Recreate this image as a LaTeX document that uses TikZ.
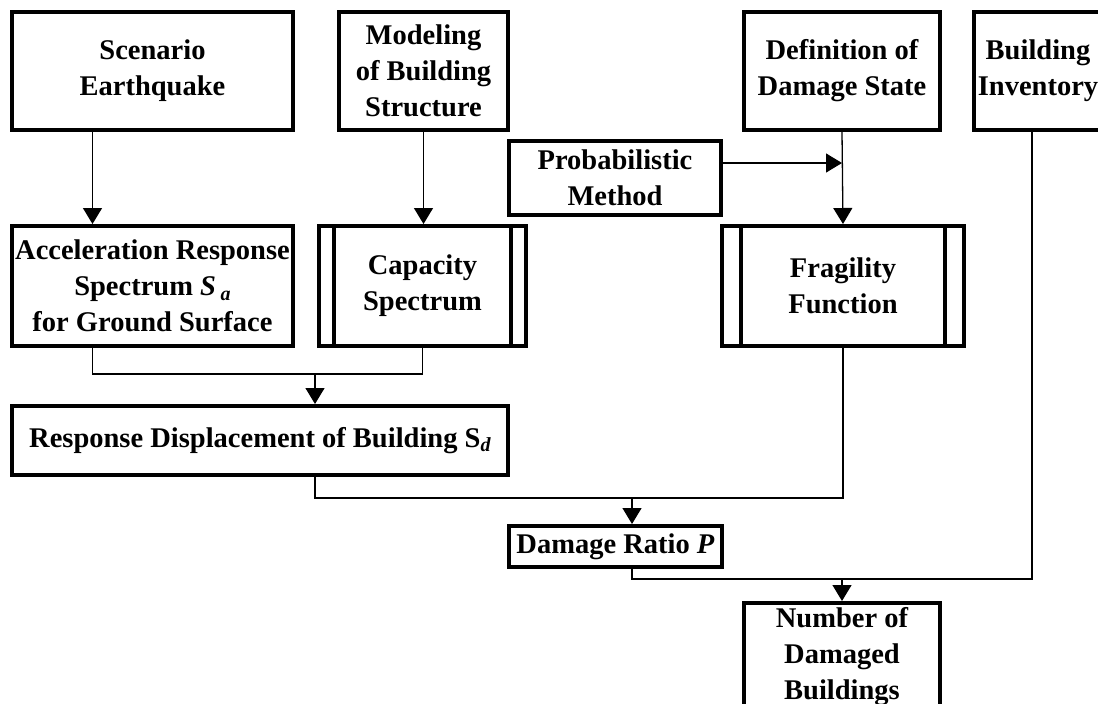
\documentclass[tikz,border=0pt]{standalone}
\usepackage{fontspec}
\setmainfont{Liberation Serif}
\usetikzlibrary{arrows.meta}
\newcommand{\lowsub}[1]{\raisebox{-0.35ex}{\fontsize{20}{20}\selectfont #1}}
\begin{document}
\begin{tikzpicture}[x=1pt, y=-1pt,
    box/.style={draw=black, line width=4pt, inner sep=1pt, align=center, font={\bfseries\fontsize{28.5}{36}\selectfont}},
    line/.style={line width=1.3pt},
    arrow/.style={line, -{Triangle[length=16pt, width=19pt]}}
]
\clip (0,0) rectangle (1098,704);

% Top row
\node[box, minimum width=281pt, minimum height=118pt] (scen) at (152.5,71) {Scenario\\Earthquake};
\node[box, minimum width=169pt, minimum height=118pt] (model) at (423.5,71) {Modeling\\of Building\\Structure};
\node[box, minimum width=196pt, minimum height=118pt] (defn) at (842,71) {Definition of\\Damage State};
\node[box, minimum width=128pt, minimum height=118pt] (bldg) at (1038,71) {Building\\Inventory};
\node[box, minimum width=212pt, minimum height=74pt] (prob) at (615,178) {Probabilistic\\Method};

% Second row
\node[box, minimum width=281pt, minimum height=120pt] (accel) at (152.5,286) {Acceleration Response\\Spectrum \textit{S}\,\lowsub{\textit{a}}\\for Ground Surface};
\node[box, minimum width=207pt, minimum height=120pt] (cap) at (422.5,286) {Capacity\\Spectrum};
\node[box, minimum width=242pt, minimum height=120pt] (frag) at (843,286) {Fragility\\Function};
\foreach \n/\d in {cap/17, frag/21} {
  \draw[line width=4pt] ([xshift=\d pt]\n.north west) -- ([xshift=\d pt]\n.south west);
  \draw[line width=4pt] ([xshift=-\d pt]\n.north east) -- ([xshift=-\d pt]\n.south east);
}

% Lower boxes
\node[box, minimum width=496pt, minimum height=69pt] (resp) at (260,440.5) {Response Displacement of Building S\lowsub{\textit{d}}};
\node[box, minimum width=213pt, minimum height=41pt] (dmg) at (615.5,546.5) {Damage Ratio \textit{P}};
\node[box, minimum width=196pt, minimum height=108pt] (num) at (842,657) {Number of\\Damaged\\Buildings};

% Junctions
\coordinate (m1) at (315,374);
\coordinate (m2) at (632,498);
\coordinate (m3) at (842,579);

% Connectors
\draw[arrow] ([xshift=-60pt]scen.south) -- ([xshift=-60pt]accel.north);
\draw[arrow] (model.south) -- (model.south |- cap.north);
\draw[arrow] (defn.south) -- (frag.north);
\draw[arrow] ([yshift=15pt]prob.east) -- ([yshift=15pt]prob.east -| defn.south);
\draw[line] ([xshift=-60pt]accel.south) |- (m1) -| (cap.south);
\draw[arrow] (m1) -- (m1 |- resp.north);
\draw[line] (m1 |- resp.south) |- (m2) -| (frag.south);
\draw[arrow] (m2) -- (m2 |- dmg.north);
\draw[line] (m2 |- dmg.south) |- (m3) -| ([xshift=-6pt]bldg.south);
\draw[arrow] (m3) -- (num.north);

\end{tikzpicture}
\end{document}
